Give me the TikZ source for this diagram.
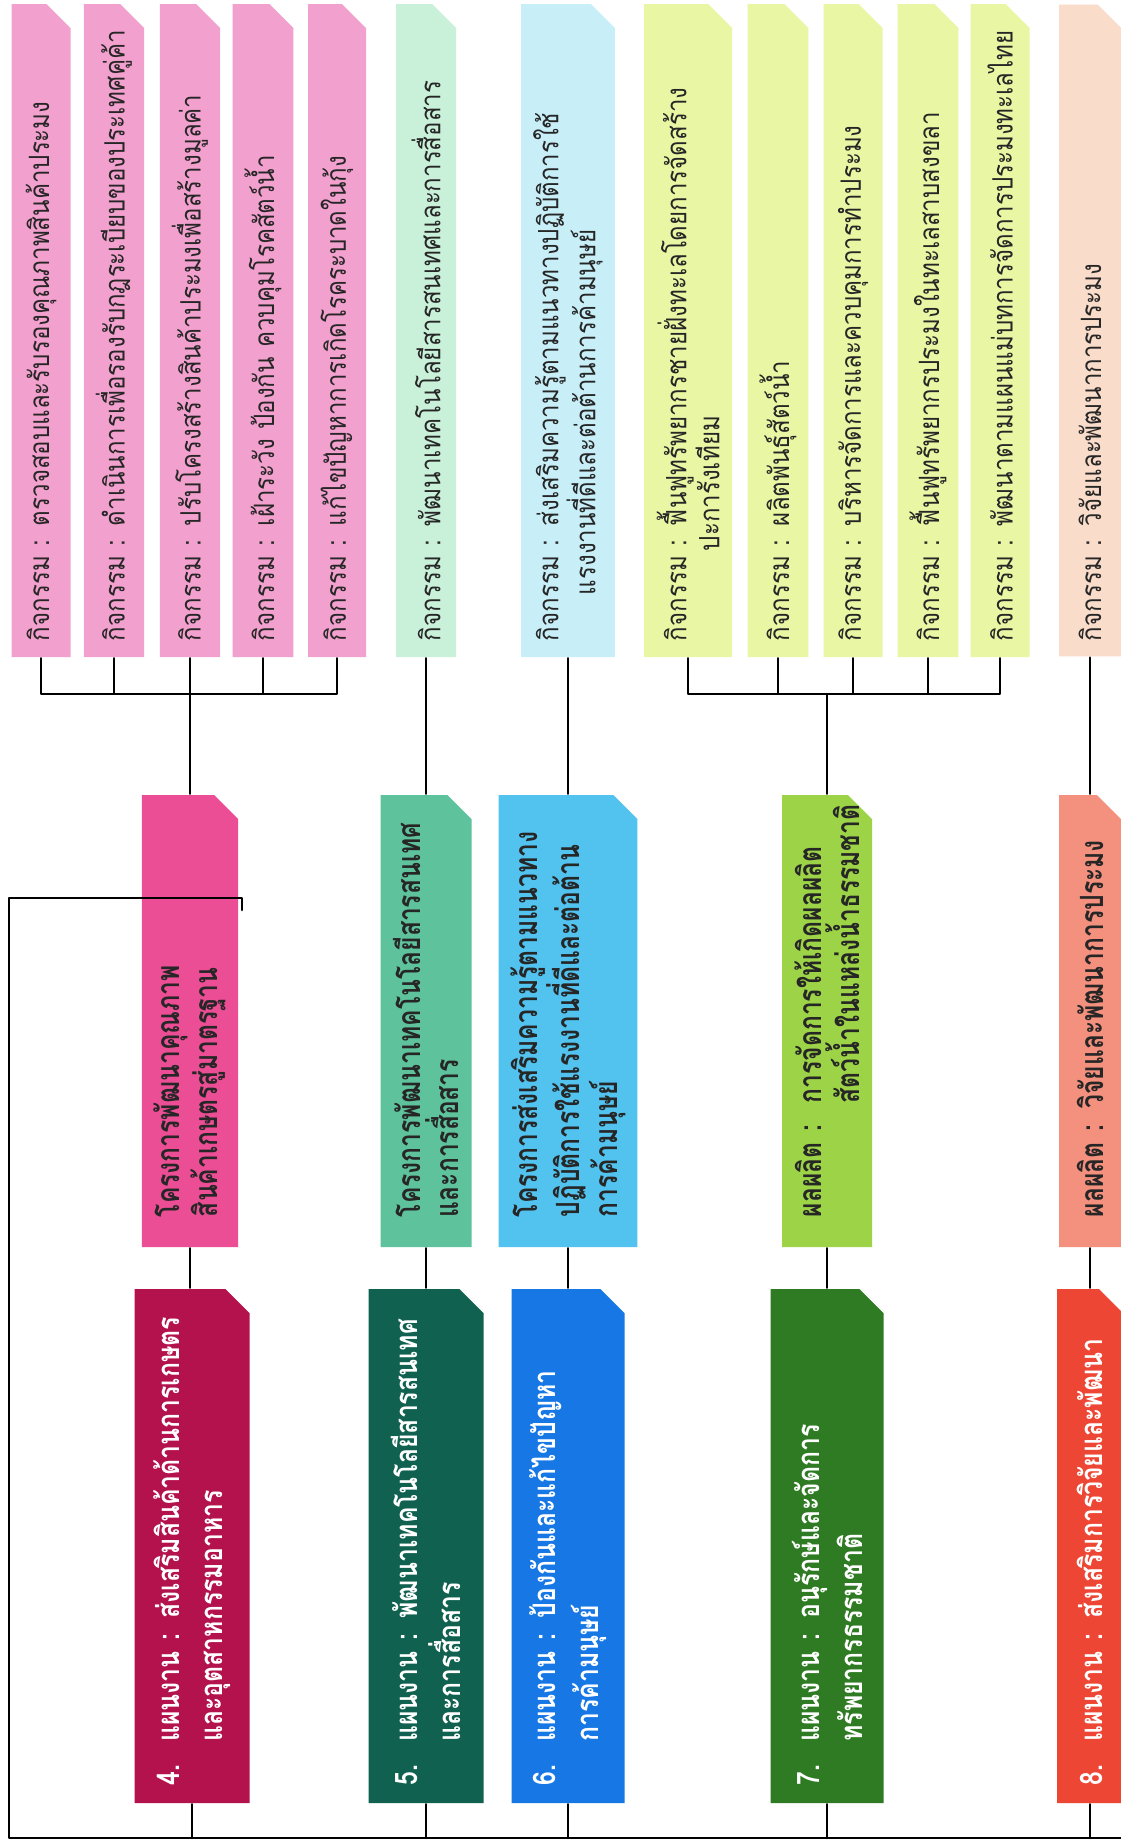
\documentclass[tikz,border=0pt]{standalone}
\usepackage{fontspec}
\newfontfamily\thaic[Script=Thai,FakeStretch=0.86]{Loma}
\newfontfamily\thaib[Script=Thai,FakeStretch=0.77]{Loma}
\newfontfamily\thaip[Script=Thai,FakeStretch=0.80]{Loma}
\usetikzlibrary{shapes.misc}
\definecolor{actpink}{HTML}{F2A0CD}
\definecolor{actmint}{HTML}{C9F1DA}
\definecolor{actcyan}{HTML}{C8EFF8}
\definecolor{actlime}{HTML}{E9F6A3}
\definecolor{actpeach}{HTML}{F9DCC9}
\definecolor{prjpink}{HTML}{EC4E96}
\definecolor{prjteal}{HTML}{5EC39C}
\definecolor{prjcyan}{HTML}{52C2EE}
\definecolor{prjlime}{HTML}{9DD447}
\definecolor{prjpeach}{HTML}{F4907E}
\definecolor{plncrim}{HTML}{B3124D}
\definecolor{plnteal}{HTML}{10614F}
\definecolor{plnblue}{HTML}{1778E5}
\definecolor{plngreen}{HTML}{2F7B23}
\definecolor{plnred}{HTML}{EE4634}
\begin{document}
\begin{tikzpicture}[x=1pt,y=-1pt,line join=round,line cap=round,line width=2.5pt]
	\tikzset{
		card/.style={chamfered rectangle,chamfered rectangle corners=south east,
			chamfered rectangle xsep=12pt,chamfered rectangle ysep=12pt,
			rotate=90,inner ysep=0pt,align=left,text=black!85},
		act/.style={card,text width=621pt,inner xsep=4pt,font=\thaic\fontsize{28}{33}\selectfont},
		proj/.style={card,text width=392pt,inner xsep=18pt,font=\thaib\bfseries\fontsize{32}{38}\selectfont},
		plan/.style={card,text width=478pt,inner xsep=6pt,text=white,font=\thaip\bfseries\fontsize{31}{43}\selectfont}
	}
	\useasboundingbox (0,0) rectangle (1121,1848);
	\clip (0,0) rectangle (1121,1848);
	\fill[white] (0,0) rectangle (1121,1848);
	% activities
	\node[act,fill=actpink,minimum height=59pt] (a41) at (41,330.5) {\mbox{กิจกรรม : ตรวจสอบและรับรองคุณภาพสินค้าประมง}};
	\node[act,fill=actpink,minimum height=58pt] (a42) at (114,330.5) {\mbox{กิจกรรม : ดำเนินการเพื่อรองรับกฎระเบียบของประเทศคู่ค้า}};
	\node[act,fill=actpink,minimum height=59pt] (a43) at (190,330.5) {\mbox{กิจกรรม : ปรับโครงสร้างสินค้าประมงเพื่อสร้างมูลค่า}};
	\node[act,fill=actpink,minimum height=58pt] (a44) at (263,330.5) {\mbox{กิจกรรม : เฝ้าระวัง ป้องกัน ควบคุมโรคสัตว์น้ำ}};
	\node[act,fill=actpink,minimum height=58pt] (a45) at (337,330.5) {\mbox{กิจกรรม : แก้ไขปัญหาการเกิดโรคระบาดในกุ้ง}};
	\node[act,fill=actmint,minimum height=60pt] (a51) at (426,330.5) {\mbox{กิจกรรม : พัฒนาเทคโนโลยีสารสนเทศและการสื่อสาร}};
	\node[act,fill=actcyan,minimum height=87pt] (a61) at (568,330.5) {\mbox{กิจกรรม : ส่งเสริมความรู้ตามแนวทางปฏิบัติการใช้}\\\hspace*{46pt}\mbox{แรงงานที่ดีและต่อต้านการค้ามนุษย์}};
	\node[act,fill=actlime,minimum height=88pt] (a71) at (688,330.5) {\mbox{กิจกรรม : ฟื้นฟูทรัพยากรชายฝั่งทะเลโดยการจัดสร้าง}\\\hspace*{90pt}\mbox{ปะการังเทียม}};
	\node[act,fill=actlime,minimum height=59pt] (a72) at (778,330.5) {\mbox{กิจกรรม : ผลิตพันธุ์สัตว์น้ำ}};
	\node[act,fill=actlime,minimum height=59pt] (a73) at (853,330.5) {\mbox{กิจกรรม : บริหารจัดการและควบคุมการทำประมง}};
	\node[act,fill=actlime,minimum height=59pt] (a74) at (928,330.5) {\mbox{กิจกรรม : ฟื้นฟูทรัพยากรประมงในทะเลสาบสงขลา}};
	\node[act,fill=actlime,minimum height=59pt] (a75) at (1000,330.5) {\mbox{กิจกรรม : พัฒนาตามแผนแม่บทการจัดการประมงทะเลไทย}};
	\node[act,fill=actpeach,minimum height=62pt] (a81) at (1090,330.5) {\mbox{กิจกรรม : วิจัยและพัฒนาการประมง}};
	% projects
	\node[proj,fill=prjpink,minimum height=90pt] (p4) at (190,1021) {โครงการพัฒนาคุณภาพ\\สินค้าเกษตรสู่มาตรฐาน};
	\node[proj,fill=prjteal,minimum height=91pt] (p5) at (426,1021) {โครงการพัฒนาเทคโนโลยีสารสนเทศ\\และการสื่อสาร};
	\node[proj,fill=prjcyan,minimum height=136pt] (p6) at (568,1021) {โครงการส่งเสริมความรู้ตามแนวทาง\\ปฏิบัติการใช้แรงงานที่ดีและต่อต้าน\\การค้ามนุษย์};
	\node[proj,fill=prjlime,minimum height=90pt] (p7) at (827,1021) {\mbox{ผลผลิต :\ \ การจัดการให้เกิดผลผลิต}\\\hphantom{ผลผลิต :\ \ }สัตว์น้ำในแหล่งน้ำธรรมชาติ};
	\node[proj,fill=prjpeach,minimum height=62pt] (p8) at (1090,1021) {\mbox{ผลผลิต : วิจัยและพัฒนาการประมง}};
	% plans
	\node[plan,fill=plncrim,minimum height=115pt] (l4) at (192,1546) {\mbox{\makebox[1.4em][l]{4.}แผนงาน : ส่งเสริมสินค้าด้านการเกษตร}\\\hspace*{1.4em}และอุตสาหกรรมอาหาร};
	\node[plan,fill=plnteal,minimum height=115pt] (l5) at (426,1546) {\mbox{\makebox[1.4em][l]{5.}แผนงาน : พัฒนาเทคโนโลยีสารสนเทศ}\\\hspace*{1.4em}และการสื่อสาร};
	\node[plan,fill=plnblue,minimum height=113pt] (l6) at (568,1546) {\mbox{\makebox[1.4em][l]{6.}แผนงาน : ป้องกันและแก้ไขปัญหา}\\\hspace*{1.4em}การค้ามนุษย์};
	\node[plan,fill=plngreen,minimum height=113pt] (l7) at (827,1546) {\mbox{\makebox[1.4em][l]{7.}แผนงาน : อนุรักษ์และจัดการ}\\\hspace*{1.4em}ทรัพยากรธรรมชาติ};
	\node[plan,fill=plnred,minimum height=66pt] (l8) at (1090,1546) {\mbox{\makebox[1.4em][l]{8.}แผนงาน : ส่งเสริมการวิจัยและพัฒนา}};
	% connectors
	\coordinate (j4) at (190,694);
	\coordinate (j7) at (827,694);
	\coordinate (c1) at (9,898);
	\coordinate (c2) at (242,898);
	\coordinate (c3) at (242,910);
	\coordinate (bl) at (9,1838);
	\coordinate (br) at (1130,1838);
	\foreach \n in {a41,a42,a43,a44,a45} \draw (\n.west) |- (j4);
	\foreach \n in {a71,a72,a73,a74,a75} \draw (\n.west) |- (j7);
	\draw (j4) -- (p4.east) (j7) -- (p7.east);
	\draw (a51.west) -- (p5.east) (a61.west) -- (p6.east) (a81.west) -- (p8.east);
	\draw (p4.west) -- (p4.west |- l4.east) (l4.west) -- (l4.west |- bl);
	\foreach \i in {5,...,8} \draw (p\i.west) -- (l\i.east) (l\i.west) -- (l\i.west |- bl);
	\draw (c3) -- (c2) -- (c1) -- (bl) -- (br);
\end{tikzpicture}
\end{document}
